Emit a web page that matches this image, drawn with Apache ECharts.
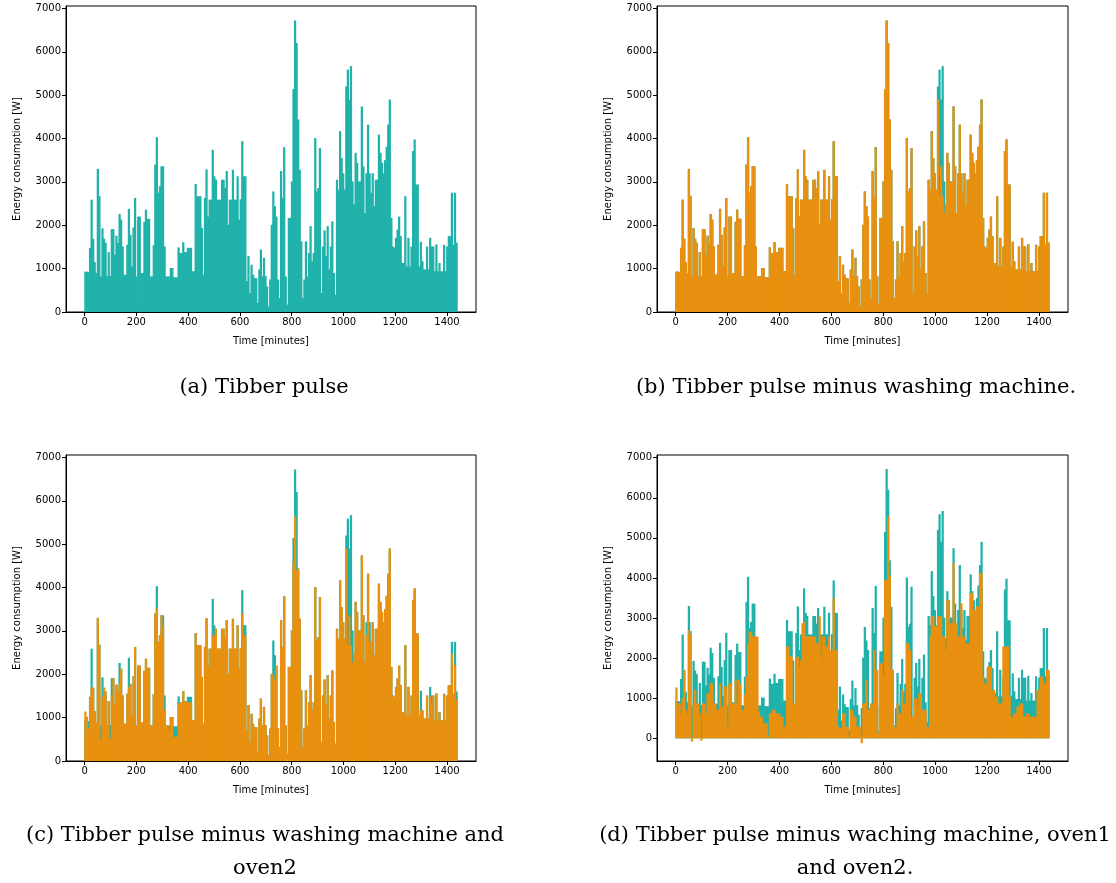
<!DOCTYPE html>
<html>
<head>
<meta charset="utf-8">
<script src="https://cdn.jsdelivr.net/npm/echarts@6/dist/echarts.min.js"></script>
<style>
  html, body { margin: 0; padding: 0; background: #fff; }
  #chart { width: 1116px; height: 883px; }
</style>
</head>
<body>
<div id="chart"></div>
<script>
// one value per 6-minute bin (240 bins = 1440 minutes)
var binMinutes = 6;

var tibber = [
  930, 930, 920, 1480, 2590, 1690, 1150, 900, 3300, 2680,
  820, 1930, 1690, 1600, 820, 1380, 830, 1910, 1910, 1320,
  1760, 1590, 2260, 2130, 1510, 860, 860, 1550, 2380, 1780,
  1050, 1950, 2630, 820, 2200, 2200, 900, 900, 2080, 2360,
  2150, 2150, 820, 820, 1540, 3400, 4030, 2750, 2900, 3360,
  3360, 1510, 820, 820, 820, 1015, 1015, 800, 800, 800,
  1490, 1360, 1360, 1610, 1380, 1380, 1480, 1480, 1480, 940,
  940, 2950, 2670, 2670, 2670, 1940, 860, 2630, 3290, 2200,
  2590, 2590, 3740, 3130, 3050, 2590, 2590, 2590, 3050, 3050,
  2860, 3250, 2010, 2590, 2590, 3280, 2590, 2590, 3130, 2130,
  2600, 3940, 3130, 3130, 710, 1290, 440, 1090, 860, 780,
  780, 210, 980, 1440, 820, 1250, 830, 590, 130, 750,
  2010, 2780, 2440, 2200, 750, 320, 3250, 2630, 3800, 820,
  170, 2170, 2170, 3010, 5140, 6720, 6200, 4440, 3280, 1630,
  320, 750, 1630, 820, 1360, 1980, 1170, 1360, 4010, 2780,
  2860, 3780, 440, 1510, 1880, 1290, 1980, 980, 1510, 2090,
  900, 400, 3050, 2820, 4170, 3550, 3200, 2820, 5200, 5590,
  4900, 5670, 3010, 2480, 3670, 3440, 3010, 3010, 4740, 3360,
  2280, 3200, 4320, 3200, 2750, 3200, 2440, 3050, 3050, 4090,
  3670, 3440, 3200, 3500, 3810, 4320, 4900, 2170, 1510, 1480,
  1710, 1900, 2200, 1750, 1130, 1130, 2670, 1050, 1710, 1050,
  1510, 3710, 3980, 2940, 2940, 1050, 1620, 1170, 980, 980,
  1510, 980, 1710, 1510, 1510, 940, 1560, 940, 1130, 940,
  940, 1550, 940, 1510, 1750, 1750, 2750, 1550, 2750, 1600
];

var minusWash = [
  930, 930, 920, 1480, 2590, 1690, 1150, 900, 3300, 2680,
  820, 1930, 1690, 1600, 820, 1380, 830, 1910, 1910, 1320,
  1760, 1590, 2260, 2130, 1510, 860, 860, 1550, 2380, 1780,
  1050, 1950, 2630, 820, 2200, 2200, 900, 900, 2080, 2360,
  2150, 2150, 820, 820, 1540, 3400, 4030, 2750, 2900, 3360,
  3360, 1510, 820, 820, 820, 1015, 1015, 800, 800, 800,
  1490, 1360, 1360, 1610, 1380, 1380, 1480, 1480, 1480, 940,
  940, 2950, 2670, 2670, 2670, 1940, 860, 2630, 3290, 2200,
  2590, 2590, 3740, 3130, 3050, 2590, 2590, 2590, 3050, 3050,
  2860, 3250, 2010, 2590, 2590, 3280, 2590, 2590, 3130, 2130,
  2600, 3940, 3130, 3130, 710, 1290, 440, 1090, 860, 780,
  780, 210, 980, 1440, 820, 1250, 830, 590, 130, 750,
  2010, 2780, 2440, 2200, 750, 320, 3250, 2630, 3800, 820,
  170, 2170, 2170, 3010, 5140, 6720, 6200, 4440, 3280, 1630,
  320, 750, 1630, 820, 1360, 1980, 1170, 1360, 4010, 2780,
  2860, 3780, 440, 1510, 1880, 1290, 1980, 980, 1510, 2090,
  900, 400, 3050, 2820, 4170, 3550, 3200, 2820, 4900, 2670,
  3360, 2670, 2280, 2480, 3670, 3440, 3010, 3010, 4740, 3360,
  2280, 3200, 4320, 3200, 2750, 3200, 2440, 3050, 3050, 4090,
  3670, 3440, 3200, 3500, 3810, 4320, 4900, 2170, 1510, 1480,
  1710, 1900, 2200, 1750, 1130, 1130, 2670, 1050, 1710, 1050,
  1510, 3710, 3980, 2940, 2940, 1050, 1620, 1170, 980, 980,
  1510, 980, 1710, 1510, 1510, 940, 1560, 940, 1130, 940,
  940, 1550, 940, 1510, 1750, 1750, 2750, 1550, 2750, 1600
];

var minusWashOven2 = [
  1140, 1020, 750, 1480, 1700, 1690, 1150, 900, 3300, 2680,
  490, 1480, 1690, 1600, 820, 1380, 520, 1500, 1910, 1320,
  1760, 1590, 1790, 2130, 1510, 860, 860, 1550, 1700, 1780,
  1050, 1950, 2630, 820, 2200, 2200, 900, 900, 2080, 2360,
  2150, 2150, 820, 820, 1540, 3400, 3510, 2750, 2900, 3360,
  3110, 1180, 820, 820, 700, 1015, 1015, 560, 560, 560,
  1330, 1360, 1360, 1610, 1380, 1380, 1350, 1350, 1350, 940,
  940, 2950, 2670, 2670, 2670, 1940, 860, 2630, 3290, 2200,
  2590, 2590, 2900, 2900, 3050, 2590, 2590, 2590, 3050, 3050,
  2860, 3250, 2010, 2590, 2590, 3280, 2590, 2590, 3130, 2130,
  2600, 3400, 2900, 2900, 710, 1290, 440, 1090, 860, 780,
  780, 210, 980, 1440, 820, 1250, 830, 590, 130, 750,
  2010, 1950, 1870, 2200, 750, 320, 3250, 2630, 3800, 820,
  170, 2170, 2170, 3010, 4560, 5640, 4400, 4440, 3280, 1630,
  320, 750, 1630, 820, 1360, 1980, 1170, 1360, 4010, 2780,
  2860, 3780, 440, 1510, 1880, 1290, 1980, 980, 1510, 2090,
  900, 400, 3050, 2820, 4170, 3550, 3200, 2820, 4900, 2670,
  3360, 2670, 2280, 2480, 3670, 3440, 3010, 3010, 4740, 3360,
  2280, 2900, 4320, 2750, 2750, 3200, 2440, 3050, 3050, 4090,
  3670, 3440, 3200, 3500, 3810, 4320, 4900, 2170, 1510, 1480,
  1710, 1900, 2200, 1750, 1130, 1130, 2670, 1050, 1710, 1050,
  1510, 3710, 3980, 2940, 2940, 1050, 1170, 1170, 980, 980,
  1510, 980, 1480, 1300, 1510, 940, 1560, 940, 1130, 940,
  940, 1550, 940, 1510, 1750, 1750, 2480, 1550, 2210, 1410
];

var minusAll = [
  1270, 870, 870, 620, 1000, 1710, 700, 620, 2700, 2600,
  -80, 830, 1210, 870, 870, 620, -60, 870, 870, 620,
  1120, 1120, 1370, 1370, 870, 870, 710, 710, 1370, 790,
  790, 1290, 1290, 290, 1370, 1370, 870, 870, 1460, 870,
  1460, 1370, 710, 710, 1100, 1540, 2370, 2660, 2660, 2540,
  2540, 2540, 2540, 670, 540, 540, 370, 370, 370, 40,
  620, 620, 710, 710, 620, 620, 620, 540, 540, 290,
  290, 2290, 2290, 2040, 2040, 870, 870, 2000, 2040, 1790,
  1950, 2870, 2910, 2540, 2540, 2540, 2540, 2540, 2540, 2540,
  2370, 2370, 3040, 2000, 2540, 2540, 2290, 2290, 2540, 2200,
  2200, 3490, 2200, 2200, 290, 250, 250, 620, 620, 290,
  290, 40, 710, 710, 540, 540, 290, 290, 290, -125,
  870, 870, 1460, 710, 710, 870, 870, 2200, 1710, 1710,
  120, 1870, 1870, 1540, 3950, 3950, 5530, 4040, 1710, 1710,
  290, 290, 870, 620, 620, 1210, 870, 870, 2370, 2370,
  2200, 540, 540, 1000, 1000, 790, 1120, 1120, 710, 710,
  710, 290, 290, 2540, 3040, 3040, 2790, 2790, 3040, 3040,
  3040, 2540, 2540, 2200, 3450, 3450, 2870, 2870, 4370, 2870,
  2870, 2540, 2540, 3370, 2540, 2540, 2370, 2370, 2370, 3620,
  3620, 3200, 3200, 3290, 3290, 4120, 4120, 1540, 1370, 1370,
  1790, 1790, 1790, 1210, 1210, 1040, 1040, 870, 870, 870,
  2290, 2290, 2290, 2290, 1040, 540, 540, 620, 620, 790,
  790, 870, 870, 540, 540, 620, 620, 540, 540, 540,
  540, 540, 1210, 1210, 1540, 1540, 1370, 1370, 1710, 1710
];

var xTicks = [0, 200, 400, 600, 800, 1000, 1200, 1400];
var yTicks = [0, 1000, 2000, 3000, 4000, 5000, 6000, 7000];

var captions = [
  ['(a) Tibber pulse'],
  ['(b) Tibber pulse minus washing machine.'],
  ['(c) Tibber pulse minus washing machine and', 'oven2'],
  ['(d) Tibber pulse minus waching machine, oven1', 'and oven2.']
];

var teal = '#20b2aa';
var orange = '#e8900f';

function toPoints(arr) {
  return arr.map(function (v, i) { return [i * binMinutes + binMinutes / 2, v]; });
}

var chartDom = document.getElementById('chart');
var myChart = echarts.init(chartDom);

var grids = [
  { left: 66, top: 6, width: 410, height: 306 },
  { left: 657, top: 6, width: 411, height: 306 },
  { left: 66, top: 455, width: 410, height: 306 },
  { left: 657, top: 455, width: 411, height: 306 }
];
var yRanges = [[0, 7056], [0, 7056], [0, 7056], [-567, 7067]];
var xMin = -72, xMax = 1512;
// a little wider than one bin so neighbouring bars touch
var barW = binMinutes * 411 / (xMax - xMin) + 0.7;

var font = 'DejaVu Sans';
var plain = function (v) { return String(v); };
var xAxes = [], yAxes = [], series = [], graphics = [];

grids.forEach(function (g, i) {
  g.show = true;
  g.borderColor = '#000';
  g.borderWidth = 1;
  xAxes.push({
    type: 'value', gridIndex: i, min: xMin, max: xMax,
    name: 'Time [minutes]', nameLocation: 'middle', nameGap: 24,
    nameTextStyle: { fontFamily: font, fontSize: 10, color: '#000' },
    axisLine: { onZero: false, lineStyle: { color: '#000' } },
    axisTick: { length: 4, customValues: xTicks, lineStyle: { color: '#000' } },
    axisLabel: { customValues: xTicks, formatter: plain, fontFamily: font, fontSize: 10, color: '#000', margin: 5 },
    splitLine: { show: false }
  });
  yAxes.push({
    type: 'value', gridIndex: i, min: yRanges[i][0], max: yRanges[i][1],
    name: 'Energy consumption [W]', nameLocation: 'middle', nameGap: 44, nameRotate: 90,
    nameTextStyle: { fontFamily: font, fontSize: 10, color: '#000' },
    axisLine: { show: true, onZero: false, lineStyle: { color: '#000' } },
    axisTick: { show: true, length: 4, customValues: yTicks, lineStyle: { color: '#000' } },
    axisLabel: { customValues: yTicks, formatter: plain, fontFamily: font, fontSize: 10, color: '#000', margin: 5 },
    splitLine: { show: false }
  });
});

var panels = [[tibber], [tibber, minusWash], [tibber, minusWashOven2], [tibber, minusAll]];
panels.forEach(function (list, i) {
  list.forEach(function (arr, k) {
    series.push({
      type: 'bar', xAxisIndex: i, yAxisIndex: i,
      data: toPoints(arr),
      barWidth: barW, barGap: '-100%',
      itemStyle: { color: k === 0 ? teal : orange },
      z: 2 + k,
      silent: true
    });
  });
});

var capCenters = [[264, 388], [856, 388], [265, 836], [855, 836]];
captions.forEach(function (lines, i) {
  lines.forEach(function (t, j) {
    graphics.push({
      type: 'text',
      x: capCenters[i][0], y: capCenters[i][1] + j * 33,
      style: {
        text: t, fill: '#000', fontFamily: 'DejaVu Serif', fontSize: 21,
        textAlign: 'center', textVerticalAlign: 'middle'
      }
    });
  });
});

var option = {
  animation: false,
  grid: grids,
  xAxis: xAxes,
  yAxis: yAxes,
  series: series,
  graphic: graphics
};

option && myChart.setOption(option);
</script>
</body>
</html>
